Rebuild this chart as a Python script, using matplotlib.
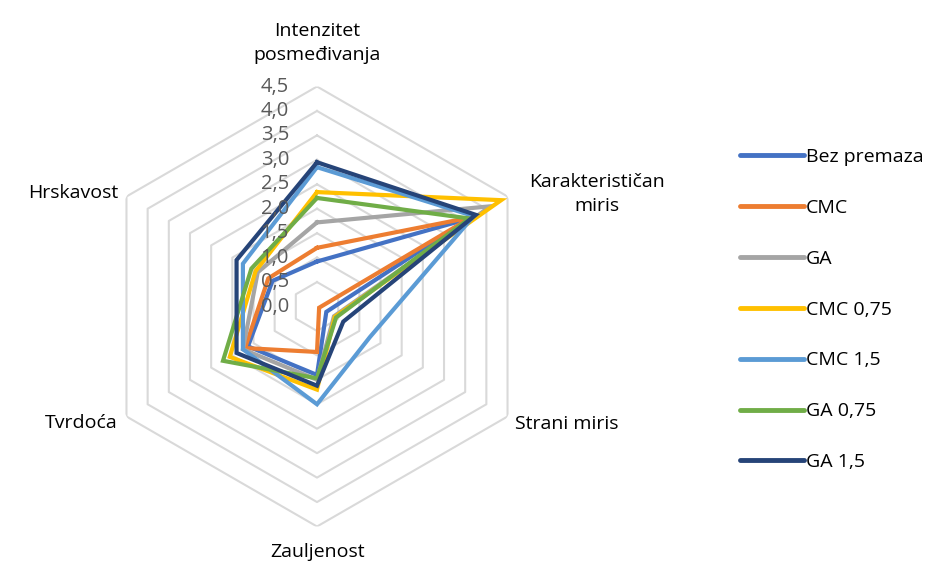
import numpy as np
import matplotlib.pyplot as plt

# Podaci
kategorije = ['Intenzitet\nposmeđivanja', 'Karakterističan\nmiris', 'Strani miris',
              'Zauljenost', 'Tvrdoća', 'Hrskavost']
serije = ['Bez premaza', 'CMC', 'GA', 'CMC 0,75', 'CMC 1,5', 'GA 0,75', 'GA 1,5']
bez_premaza = [0.92, 3.6, 0.22, 1.4, 1.63, 1.05]
cmc = [1.2, 3.65, 0.05, 0.93, 1.7, 1.15]
ga = [1.72, 4.1, 0.4, 1.5, 1.75, 1.4]
cmc_075 = [2.34, 4.35, 0.42, 1.7, 2.06, 1.45]
cmc_15 = [2.85, 3.7, 1.25, 2.0, 1.75, 1.75]
ga_075 = [2.22, 3.6, 0.45, 1.47, 2.22, 1.55]
ga_15 = [2.95, 3.75, 0.62, 1.62, 1.9, 1.9]
nivoi = [0.0, 0.5, 1.0, 1.5, 2.0, 2.5, 3.0, 3.5, 4.0, 4.5]
nivoi_oznake = ['0,0', '0,5', '1,0', '1,5', '2,0', '2,5', '3,0', '3,5', '4,0', '4,5']

boje = ['#4472C4', '#ED7D31', '#A5A5A5', '#FFC000', '#5B9BD5', '#70AD47', '#264478']
vrijednosti = [bez_premaza, cmc, ga, cmc_075, cmc_15, ga_075, ga_15]

plt.rcParams['font.family'] = ['Open Sans', 'DejaVu Sans']

W, H = 949, 567
fig = plt.figure(figsize=(W / 100, H / 100), dpi=100)
cx, cy, rad = 317, 306.5, 220
ax = fig.add_axes([(cx - rad) / W, 1 - (cy + rad) / H, 2 * rad / W, 2 * rad / H],
                  projection='polar')
ax.set_theta_offset(np.pi / 2)
ax.set_theta_direction(-1)
ax.set_ylim(0, 4.5)
ax.grid(False)
ax.spines['polar'].set_visible(False)
ax.set_xticks([])
ax.set_yticks([])
ax.patch.set_alpha(0)

n = len(kategorije)
uglovi = np.linspace(0, 2 * np.pi, n, endpoint=False)
uglovi_z = np.append(uglovi, uglovi[0])

# Šestougaona mreža
for nv in nivoi[1:]:
    ax.plot(uglovi_z, [nv] * (n + 1), color='#d9d9d9', lw=1.5, zorder=1)

for nv, oz in zip(nivoi, nivoi_oznake):
    ax.annotate(oz, (0, nv), xytext=(-28, 0), textcoords='offset pixels',
                ha='right', va='center', fontsize=14.5, color='#595959', zorder=5)

for naziv, vr, b in zip(serije, vrijednosti, boje):
    ax.plot(uglovi_z, vr + [vr[0]], color=b, lw=3, label=naziv, zorder=3,
            solid_joinstyle='miter')

# Nazivi osa
poz = [(317, 43, 'center'), (597, 194, 'center'), (515, 424, 'left'),
       (318, 552, 'center'), (118, 423, 'right'), (118, 193, 'right')]
for k, (x, y, ha) in zip(kategorije, poz):
    fig.text(x / W, 1 - y / H, k, ha=ha, va='center', fontsize=14,
             color='#000000', linespacing=1.45)

leg = fig.legend(loc='upper left', bbox_to_anchor=(740 / W, 1 - 148 / H),
                 frameon=False, fontsize=14, handlelength=3.3, handletextpad=0.1,
                 labelspacing=1.69, borderpad=0, borderaxespad=0)
for l in leg.get_lines():
    l.set_linewidth(3.5)
    l.set_solid_capstyle('round')

fig.savefig('out.png', dpi=100)
